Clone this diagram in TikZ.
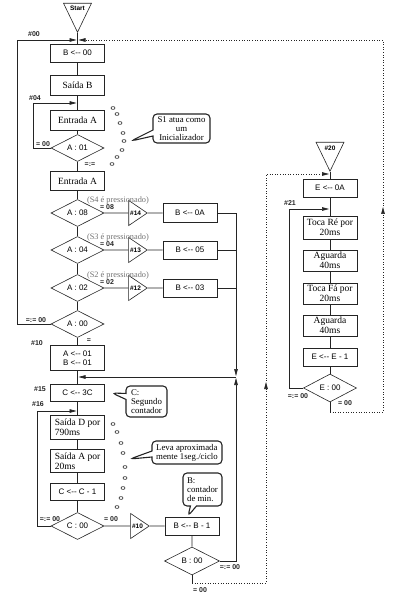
\documentclass[tikz,border=0pt]{standalone}
\usepackage{fontspec}
\setmainfont{Liberation Serif}
\setsansfont{Liberation Sans}
\usetikzlibrary{arrows.meta,shapes.geometric,shapes.callouts}
\definecolor{ink} {HTML}{242424}
\definecolor{pale}{HTML}{707070}
\newcommand{\sfs}{\sffamily\fontsize{8}{9.5}\selectfont}
\newcommand{\rms}{\rmfamily\fontsize{9.5}{10}\selectfont}
\newcommand{\lto}{<-{}-}
\tikzset{
  blk/.style  ={draw=ink, line width=0.6pt, minimum width=54, minimum height=18,
                inner sep=1pt, align=center, font=\sfs},
  blkr/.style ={blk, font=\rms},
  dec/.style  ={diamond, draw=ink, line width=0.6pt, aspect=2, minimum width=53,
                minimum height=27, inner sep=0pt, font=\sfs},
  conn/.style ={isosceles triangle, isosceles triangle stretches, draw=ink,
                line width=0.6pt, minimum width=25, minimum height=17,
                inner sep=0.5pt, anchor=apex,
                font=\sffamily\bfseries\fontsize{6.5}{7}\selectfont},
  term/.style ={conn, shape border rotate=270, minimum width=28, minimum height=29},
  call/.style ={rectangle callout, draw=ink, line width=1.1pt, rounded corners=4pt,
                callout pointer width=6pt, inner sep=1pt,
                font=\rmfamily\fontsize{8.8}{9.2}\selectfont},
  ln/.style   ={draw=ink, line width=0.6pt},
  ar/.style   ={ln, -{Triangle[length=7pt,width=3.6pt]}, shorten >=1pt},
  arn/.style  ={ar, dotted},
  tag/.style  ={inner sep=0pt, text=ink,
                font=\sffamily\bfseries\fontsize{7}{7.5}\selectfont},
  note/.style ={inner sep=0pt, text=pale, font=\rmfamily\fontsize{8.3}{9}\selectfont},
  bub/.style  ={draw=ink, line width=0.6pt}
}
\begin{document}
\begin{tikzpicture}[x=1pt,y=-1pt]
\useasboundingbox (0,0) rectangle (400,601);
% main column
\node[term] (tStart) at (77.5,33) {Start};
\node[blk] (bB00) at (77.5,53) {B \lto{} 00};
\node[blkr, minimum height=20] (sB) at (77.5,85) {Saída B};
\node[blkr, minimum height=20] (eA1) at (77.5,120) {Entrada A};
\node[dec] (dA01) at (77.5,148) {A : 01};
\node[blkr, minimum height=19] (eA2) at (77.5,181) {Entrada A};
\node[dec] (dA08) at (77.5,213) {A : 08};
\node[dec] (dA04) at (77.5,250) {A : 04};
\node[dec] (dA02) at (77.5,288) {A : 02};
\node[dec] (dA00) at (77.5,324) {A : 00};
\node[blk, minimum height=25] (bAB) at (77.5,358) {A \lto{} 01\\B \lto{} 01};
\node[blk, minimum height=17] (bC3C) at (77.5,393) {C \lto{} 3C};
\node[blkr, minimum height=24, align=left] (sD) at (77.5,427) {Saída D por\\790ms};
\node[blkr, minimum height=23, align=left] (sA) at (77.5,461) {Saída A por\\20ms};
\node[blk, minimum height=17] (bCC) at (77.5,492) {C \lto{} C - 1};
\node[dec] (dC00) at (77.5,526) {C : 00};
% key branches and minute counter
\node[conn] (t14) at (148,213) {\#14};
\node[blk, minimum height=19] (bB0A) at (190,213) {B \lto{} 0A};
\node[conn] (t13) at (148,250) {\#13};
\node[blk] (bB05) at (190,250) {B \lto{} 05};
\node[conn] (t12) at (148,288) {\#12};
\node[blk] (bB03) at (190,288) {B \lto{} 03};
\node[conn] (t10) at (150,526) {\#10};
\node[blk] (bBB) at (192,526) {B \lto{} B - 1};
\node[dec, minimum width=55, minimum height=28] (dB00) at (192,561) {B : 00};
% alarm column
\node[term] (t20) at (330,172) {\#20};
\node[blk] (bE0A) at (330,188) {E \lto{} 0A};
\node[blkr, minimum height=23] (tRe) at (330,227.5) {Toca Ré por\\20ms};
\node[blkr, minimum height=21] (ag1) at (330,260.5) {Aguarda\\40ms};
\node[blkr, minimum height=21] (tFa) at (330,293.5) {Toca Fá por\\20ms};
\node[blkr, minimum height=21] (ag2) at (330,325.5) {Aguarda\\40ms};
\node[blk] (bEE) at (330,357) {E \lto{} E - 1};
\node[dec, minimum height=28] (dE00) at (330,388) {E : 00};
% callouts
\node[call, align=center, minimum width=57, minimum height=29,
      callout absolute pointer={(131,141)}] (cS1) at (181.5,128.5)
  {S1 atua como\\um\\Inicializador};
\node[call, align=left, minimum width=41, minimum height=31,
      callout absolute pointer={(112,393)}] (cC) at (146.5,401.5)
  {C:\\Segundo\\contador};
\node[call, align=left, minimum width=70, minimum height=23,
      callout absolute pointer={(130,459)}] (cLeva) at (187,452.5)
  {Leva aproximada\\mente 1seg./ciclo};
\node[call, align=left, minimum width=39, minimum height=33,
      callout absolute pointer={(188,516)}] (cB) at (202.5,489.5)
  {B:\\contador\\de min.};
% labels
\node[tag] (n00) at (34,34) {\#00};
\node[tag] (n04) at (35,98) {\#04};
\node[tag] (eq01) at (43,144) {= 00};
\node[tag] (ne01) at (90,165) {=:=};
\node[note] (s4) at (118,200) {(S4 é pressionado)};
\node[tag] (eq08) at (107,207) {= 08};
\node[note] (s3) at (118,237.5) {(S3 é pressionado)};
\node[tag] (eq04) at (107,244) {= 04};
\node[note] (s2) at (118,275.5) {(S2 é pressionado)};
\node[tag] (eq02) at (107,282.5) {= 02};
\node[tag] (ne00) at (36,320) {=:= 00};
\node[tag] (eq00) at (89,341) {=};
\node[tag] (n10) at (37,343) {\#10};
\node[tag] (n15) at (40,389) {\#15};
\node[tag] (n16) at (38,404) {\#16};
\node[tag] (neC) at (50,519) {=:= 00};
\node[tag] (eqC) at (111,519) {= 00};
\node[tag] (neB) at (230,567) {=:= 00};
\node[tag] (eqB) at (200,590) {= 00};
\node[tag] (n21) at (290,203) {\#21};
\node[tag] (neE) at (298,396) {=:= 00};
\node[tag] (eqE) at (345,403) {= 00};
% junction points
\coordinate (j00) at (77.5,40);
\coordinate (l00) at (17,40);
\coordinate (r00) at (383,40);
\coordinate (j04) at (77.5,103);
\coordinate (l04) at (33,103);
\coordinate (jM)  at (77.5,377);
\coordinate (busT) at (236,377);
\coordinate (j16) at (77.5,411);
\coordinate (l16) at (37,411);
\coordinate (j20) at (330,174);
\coordinate (l20) at (266,174);
\coordinate (m20) at (266,381);
\coordinate (b00d) at (192,583);
\coordinate (b00r) at (266,583);
\coordinate (j21) at (330,209);
\coordinate (l21) at (289,209);
\coordinate (e00d) at (330,412);
\coordinate (e00r) at (383,412);
\coordinate (r21) at (383,206);
% flow lines
\draw[ln] (tStart.apex) -- (bB00) -- (sB) -- (eA1) -- (dA01) -- (eA2) -- (dA08)
  -- (dA04) -- (dA02) -- (dA00) -- (bAB) -- (bC3C) -- (sD) -- (sA) -- (bCC) -- (dC00);
\draw[ln] (dA08) -- (t14) -- (bB0A);
\draw[ln] (dA04) -- (t13) -- (bB05);
\draw[ln] (dA02) -- (t12) -- (bB03);
\draw[ln] (dC00) -- (t10) -- (bBB) -- (dB00);
\draw[ln] (t20.apex) -- (bE0A) -- (tRe) -- (ag1) -- (tFa) -- (ag2) -- (bEE) -- (dE00);
\draw[ln] (bB05.east) -- (bB05.east -| busT);
\draw[ln] (bB03.east) -- (bB03.east -| busT);
\draw[ar] (bB0A.east) -| (busT);
\draw[ar] (dB00.east) -| (busT);
\draw[ar] (busT) -- (jM);
\draw[ar] (dA00.west) -| (l00) -- (j00);
\draw[ar] (dA01.west) -| (l04) -- (j04);
\draw[ar] (dC00.west) -| (l16) -- (j16);
\draw[ar] (dE00.west) -| (l21) -- (j21);
% dotted returns
\draw[ln] (dB00.south) -- (b00d);
\draw[arn] (b00d) -- (b00r) -- (m20);
\draw[arn] (m20) -- (l20) -- (j20);
\draw[ln] (dE00.south) -- (e00d);
\draw[arn] (e00d) -- (e00r) -- (r21);
\draw[arn] (r21) -- (r00) -- (j00);
% thought bubbles
\foreach \p in {(113,108),(117,114),(120,123),(123,133),(124,141),(122,150),
                (117,157),(112,164)}
  \draw[bub] \p ellipse (2pt and 1.4pt);
\foreach \p in {(113,424),(117,432),(121,443),(123,453),(125,467),(125,478),
                (123,488),(121,498),(117,507)}
  \draw[bub] \p ellipse (2pt and 1.4pt);
\end{tikzpicture}
\end{document}
